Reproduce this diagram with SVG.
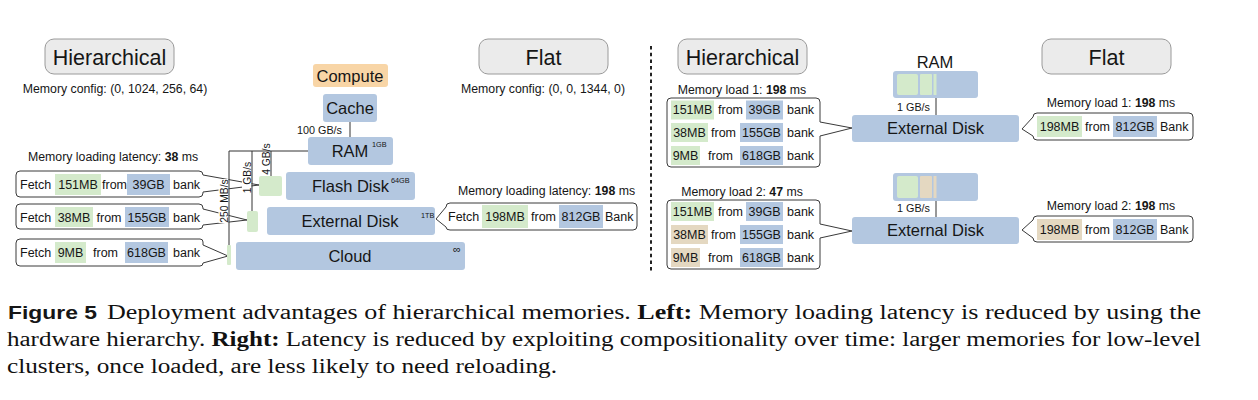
<svg xmlns="http://www.w3.org/2000/svg" width="1258" height="400" viewBox="0 0 1258 400">
<style>
text{font-family:"Liberation Sans",Arial,sans-serif;fill:#161616}
.btn{fill:#ebebeb;stroke:#9a9a9a;stroke-width:1}
.bt{font-size:21.5px;text-anchor:middle}
.cfg{font-size:12.3px}
.mid{text-anchor:middle}
.nd{fill:#b3c7e0}
.nl{font-size:16.5px;text-anchor:middle}
.sup{font-size:7.3px}
.g{fill:#d4eacb}
.b{fill:#b3c7e0}
.t{fill:#e4d8c1}
.o{fill:#f8d5a6}
.bub{fill:#fff;stroke:#3a3a3a;stroke-width:1}
.r{font-size:12.5px}
.rc{font-size:12.5px;text-anchor:middle}
.sm{font-size:10.8px}
.vs{font-size:10.3px;text-anchor:middle}
.conn{stroke:#333;stroke-width:1;fill:none}
.dot{stroke:#222;stroke-width:2;stroke-dasharray:3.5 3.2;fill:none}
.cap{font-family:"Liberation Serif","Times New Roman",serif;font-size:20.5px;fill:#111}
</style>

<!-- LEFT: Hierarchical -->
<g id="btn-hier-left"><rect class="btn" x="45" y="39" width="129" height="35" rx="9"/><text class="bt" x="109.5" y="65">Hierarchical</text></g>
<text id="cfg-hier" class="cfg mid" x="115" y="92.5">Memory config: (0, 1024, 256, 64)</text>

<g id="compute"><rect class="o" x="313" y="64" width="75" height="23" rx="3"/><text class="nl" x="350" y="81.5">Compute</text></g>
<g id="cache"><rect class="nd" x="323" y="94" width="54" height="28" rx="3"/><text class="nl" x="350" y="114">Cache</text></g>
<g id="ram"><rect class="nd" x="308" y="137" width="85" height="28" rx="3"/><text class="nl" x="350" y="157">RAM</text><text class="sup" x="372" y="147">1GB</text></g>
<g id="flash"><rect class="nd" x="286" y="172" width="129" height="28" rx="3"/><text class="nl" x="350.5" y="192">Flash Disk</text><text class="sup" x="391" y="183">64GB</text></g>
<g id="extdisk"><rect class="nd" x="267" y="207" width="168" height="28" rx="3"/><text class="nl" x="350" y="226.5">External Disk</text><text class="sup" x="421" y="218">1TB</text></g>
<g id="cloud"><rect class="nd" x="236" y="242" width="229" height="28" rx="3"/><text class="nl" x="350" y="262">Cloud</text><text x="457" y="253" font-size="11" text-anchor="middle">∞</text></g>

<text id="lat-hier" class="cfg" x="28" y="161">Memory loading latency: <tspan font-weight="bold">38</tspan> ms</text>

<g id="fetch1">
<path class="bub" d="M20,171 H199 Q203,171 203,175 L259,185 L203,192 V193 Q203,197 199,197 H20 Q16,197 16,193 V175 Q16,171 20,171 Z"/>
<text class="r" x="20" y="189">Fetch</text>
<rect class="g" x="55" y="174" width="46" height="21"/><text class="rc" x="78" y="189">151MB</text>
<text class="r" x="102" y="189">from</text>
<rect class="b" x="127" y="174" width="43" height="21"/><text class="rc" x="148.5" y="189">39GB</text>
<text class="r" x="173" y="189">bank</text>
</g>
<g id="fetch2">
<path class="bub" d="M20,204 H199 Q203,204 203,208 V209 L247,220 L203,225 Q203,229 199,229 H20 Q16,229 16,225 V208 Q16,204 20,204 Z"/>
<text class="r" x="20" y="221.5">Fetch</text>
<rect class="g" x="55" y="207" width="38" height="20"/><text class="rc" x="74" y="221.5">38MB</text>
<text class="r" x="96.5" y="221.5">from</text>
<rect class="b" x="125" y="207" width="44" height="20"/><text class="rc" x="147" y="221.5">155GB</text>
<text class="r" x="173" y="221.5">bank</text>
</g>
<g id="fetch3">
<path class="bub" d="M20,239 H200 Q203,239 203,242 V245 L228,256 L203,263 Q203,266 200,266 H20 Q16,266 16,262 V243 Q16,239 20,239 Z"/>
<text class="r" x="20" y="257">Fetch</text>
<rect class="g" x="55" y="242" width="31" height="21"/><text class="rc" x="70.5" y="257">9MB</text>
<text class="r" x="93" y="257">from</text>
<rect class="b" x="125" y="242" width="43" height="21"/><text class="rc" x="146.5" y="257">618GB</text>
<text class="r" x="173" y="257">bank</text>
</g>

<g id="bw-labels">
<rect x="218.5" y="179" width="10" height="44" fill="#fff"/>
<text class="vs" transform="translate(228,201) rotate(-90)">250 MB/s</text>
<rect x="242" y="161" width="9.5" height="33" fill="#fff"/>
<text class="vs" transform="translate(251,177.5) rotate(-90)">1 GB/s</text>
<text class="vs" transform="translate(270,159) rotate(-90)">4 GB/s</text>
<text class="sm" x="297" y="134">100 GB/s</text>
</g>

<g id="green-slots">
<rect class="g" x="259" y="176" width="23" height="20" rx="2"/>
<rect class="g" x="247" y="211" width="11" height="21" rx="2"/>
<rect class="g" x="227" y="245" width="4" height="20" rx="1"/>
</g>

<g id="connectors-left">
<path class="conn" d="M350,122 V137"/>
<path class="conn" d="M308,151 H229 V245"/>
<path class="conn" d="M252,151 V211"/>
<path class="conn" d="M271,151 V176"/>
</g>

<!-- LEFT: Flat -->
<g id="btn-flat-left"><rect class="btn" x="479" y="39" width="129" height="35" rx="9"/><text class="bt" x="543.5" y="65">Flat</text></g>
<text id="cfg-flat" class="cfg mid" x="543" y="92.5">Memory config: (0, 0, 1344, 0)</text>
<text id="lat-flat" class="cfg" x="458" y="195">Memory loading latency: <tspan font-weight="bold">198</tspan> ms</text>
<g id="fetch-flat">
<path class="bub" d="M450,203 H633 Q637,203 637,207 V226 Q637,230 633,230 H450 Q446,230 446,227 L436,219 L446,207 Q446,203 450,203 Z"/>
<text class="r" x="448" y="221">Fetch</text>
<rect class="g" x="482" y="205" width="46" height="23"/><text class="rc" x="505" y="221">198MB</text>
<text class="r" x="531" y="221">from</text>
<rect class="b" x="559" y="205" width="44" height="23"/><text class="rc" x="581" y="221">812GB</text>
<text class="r" x="605" y="221">Bank</text>
</g>

<!-- divider -->
<path id="divider" class="dot" d="M651,46 V272"/>

<!-- RIGHT: Hierarchical -->
<g id="btn-hier-right"><rect class="btn" x="678" y="39" width="129" height="35" rx="9"/><text class="bt" x="742.5" y="65">Hierarchical</text></g>
<text class="cfg mid" x="742" y="94">Memory load 1: <tspan font-weight="bold">198</tspan> ms</text>
<g id="load1-hier">
<path class="bub" d="M671,98 H816 Q820,98 820,102 V122 L852,128 L820,136 V163 Q820,167 816,167 H671 Q667,167 667,163 V102 Q667,98 671,98 Z"/>
<rect class="g" x="671" y="100.5" width="43" height="19"/><text class="rc" x="692.5" y="114">151MB</text>
<text class="r" x="718" y="114">from</text>
<rect class="b" x="746" y="100.5" width="37" height="19"/><text class="rc" x="764.5" y="114">39GB</text>
<text class="r" x="787" y="114">bank</text>
<rect class="g" x="671" y="123" width="37" height="19"/><text class="rc" x="689.5" y="137">38MB</text>
<text class="r" x="711" y="137">from</text>
<rect class="b" x="740" y="123" width="43" height="19"/><text class="rc" x="761.5" y="137">155GB</text>
<text class="r" x="787" y="137">bank</text>
<rect class="g" x="671" y="146" width="29" height="19"/><text class="rc" x="685.5" y="160">9MB</text>
<text class="r" x="708" y="160">from</text>
<rect class="b" x="740" y="146" width="43" height="19"/><text class="rc" x="761.5" y="160">618GB</text>
<text class="r" x="787" y="160">bank</text>
</g>
<text class="cfg mid" x="742" y="196">Memory load 2: <tspan font-weight="bold">47</tspan> ms</text>
<g id="load2-hier">
<path class="bub" d="M671,200 H816 Q820,200 820,204 V224 L852,231 L820,238 V265 Q820,269 816,269 H671 Q667,269 667,265 V204 Q667,200 671,200 Z"/>
<rect class="g" x="671" y="202" width="43" height="19"/><text class="rc" x="692.5" y="216">151MB</text>
<text class="r" x="718" y="216">from</text>
<rect class="b" x="746" y="202" width="37" height="19"/><text class="rc" x="764.5" y="216">39GB</text>
<text class="r" x="787" y="216">bank</text>
<rect class="t" x="671" y="225" width="37" height="19"/><text class="rc" x="689.5" y="239">38MB</text>
<text class="r" x="711" y="239">from</text>
<rect class="b" x="740" y="225" width="43" height="19"/><text class="rc" x="761.5" y="239">155GB</text>
<text class="r" x="787" y="239">bank</text>
<rect class="t" x="671" y="248" width="29" height="19"/><text class="rc" x="685.5" y="262">9MB</text>
<text class="r" x="708" y="262">from</text>
<rect class="b" x="740" y="248" width="43" height="19"/><text class="rc" x="761.5" y="262">618GB</text>
<text class="r" x="787" y="262">bank</text>
</g>

<text class="nl" x="935" y="68">RAM</text>
<g id="ram-r1"><rect class="nd" x="893" y="71" width="85" height="27" rx="3"/><rect class="g" x="897" y="74" width="21" height="21" rx="2"/><rect class="g" x="920" y="74" width="12" height="21" rx="1"/><rect class="g" x="933.5" y="74" width="3" height="21"/></g>
<g id="ext-r1"><rect class="nd" x="852" y="115" width="167" height="27" rx="3"/><text class="nl" x="935.5" y="134">External Disk</text></g>
<g id="ram-r2"><rect class="nd" x="893" y="173" width="85" height="28" rx="3"/><rect class="g" x="897" y="176" width="21" height="22" rx="2"/><rect class="t" x="920" y="176" width="12" height="22" rx="1"/><rect class="t" x="933.5" y="176" width="3" height="22"/></g>
<g id="ext-r2"><rect class="nd" x="852" y="217" width="167" height="27" rx="3"/><text class="nl" x="935.5" y="236">External Disk</text></g>
<g id="connectors-right">
<path class="conn" d="M936,98 V115"/>
<path class="conn" d="M936,201 V217"/>
<text class="sm" x="897" y="111">1 GB/s</text>
<text class="sm" x="897" y="212">1 GB/s</text>
</g>

<g id="btn-flat-right"><rect class="btn" x="1042" y="39" width="129" height="35" rx="9"/><text class="bt" x="1106.5" y="65">Flat</text></g>
<text class="cfg mid" x="1111" y="107">Memory load 1: <tspan font-weight="bold">198</tspan> ms</text>
<g id="load1-flat">
<path class="bub" d="M1037,113 H1189 Q1193,113 1193,117 V136 Q1193,140 1189,140 H1037 Q1033,140 1033,136 L1022,129 L1033,117 Q1033,113 1037,113 Z"/>
<rect class="g" x="1037" y="116" width="45" height="21"/><text class="rc" x="1059.5" y="131">198MB</text>
<text class="r" x="1085" y="131">from</text>
<rect class="b" x="1113" y="116" width="44" height="21"/><text class="rc" x="1135" y="131">812GB</text>
<text class="r" x="1160" y="131">Bank</text>
</g>
<text class="cfg mid" x="1111" y="210">Memory load 2: <tspan font-weight="bold">198</tspan> ms</text>
<g id="load2-flat">
<path class="bub" d="M1037,216 H1189 Q1193,216 1193,220 V238 Q1193,242 1189,242 H1037 Q1033,242 1033,238 L1022,230 L1033,220 Q1033,216 1037,216 Z"/>
<rect class="t" x="1037" y="219" width="45" height="21"/><text class="rc" x="1059.5" y="234">198MB</text>
<text class="r" x="1085" y="234">from</text>
<rect class="b" x="1113" y="219" width="44" height="21"/><text class="rc" x="1135" y="234">812GB</text>
<text class="r" x="1160" y="234">Bank</text>
</g>

<!-- caption -->
<g id="caption">
<text x="8" y="319" font-weight="bold" font-size="19" fill="#111" textLength="89" lengthAdjust="spacingAndGlyphs">Figure 5</text>
<text class="cap" x="107" y="319" textLength="1094" lengthAdjust="spacingAndGlyphs">Deployment advantages of hierarchical memories. <tspan font-weight="bold">Left:</tspan> Memory loading latency is reduced by using the</text>
<text class="cap" x="7" y="346" textLength="1194" lengthAdjust="spacingAndGlyphs">hardware hierarchy. <tspan font-weight="bold">Right:</tspan> Latency is reduced by exploiting compositionality over time: larger memories for low-level</text>
<text class="cap" x="7" y="373" textLength="550" lengthAdjust="spacingAndGlyphs">clusters, once loaded, are less likely to need reloading.</text>
</g>
</svg>
